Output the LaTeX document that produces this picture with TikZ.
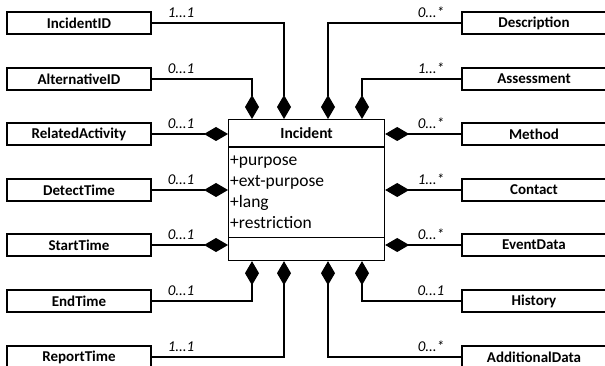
\documentclass[tikz,border=0pt]{standalone}
\usepackage{fontspec}
\setmainfont{Carlito}
\usetikzlibrary{arrows.meta}
\begin{document}
\begin{tikzpicture}[x=1pt,y=-1pt,
  cls/.style={draw, line width=1.2pt, minimum width=144pt, minimum height=22pt,
    inner sep=0pt, font=\fontsize{15}{17}\selectfont\bfseries},
  comp/.style={line width=1.1pt, {Diamond[length=24pt,width=14pt]}-},
  mult/.style={font=\fontsize{15}{17}\selectfont\itshape, inner sep=0pt},
  attr/.style={font=\fontsize{17.5}{21}\selectfont, inner sep=0pt, anchor=base west},
]
\useasboundingbox (0,0) rectangle (605,366);
\clip (0,0) rectangle (605,366);

% central class
\node[draw, line width=1.2pt, minimum width=156pt, minimum height=141pt,
  inner sep=0pt, anchor=north west] (incident) at (228,119) {};
\draw[line width=1.2pt] ([yshift=-28pt]incident.north west) -- ([yshift=-28pt]incident.north east);
\draw[line width=1.2pt] ([yshift=24pt]incident.south west) -- ([yshift=24pt]incident.south east);
\node[font=\fontsize{15.5}{17}\selectfont\bfseries, inner sep=0pt] (title)
  at ([yshift=-14pt]incident.north) {Incident};
\node[attr] (a1) at (230,166) {+purpose};
\node[attr] (a2) at (230,187) {+ext-purpose};
\node[attr] (a3) at (230,208) {+lang};
\node[attr] (a4) at (230,229) {+restriction};

% left column
\node[cls] (incidentid) at (79,23)  {IncidentID};
\node[cls] (altid)      at (79,79)  {AlternativeID};
\node[cls] (relact)     at (79,134) {RelatedActivity};
\node[cls] (detect)     at (79,190) {DetectTime};
\node[cls] (start)      at (79,245) {StartTime};
\node[cls] (endtime)    at (79,301) {EndTime};
\node[cls] (report)     at (79,357) {ReportTime};

% right column
\node[cls] (description) at (534,23)  {Description};
\node[cls] (assessment)  at (534,79)  {Assessment};
\node[cls] (method)      at (534,134) {Method};
\node[cls] (contact)     at (534,190) {Contact};
\node[cls] (eventdata)   at (534,245) {EventData};
\node[cls] (history)     at (534,301) {History};
\node[cls] (additional)  at (534,357) {AdditionalData};

% compositions, top
\draw[comp] ([xshift=56pt]incident.north west)  |- (incidentid.east);
\draw[comp] ([xshift=24pt]incident.north west)  |- (altid.east);
\draw[comp] ([xshift=100pt]incident.north west) |- (description.west);
\draw[comp] ([xshift=134pt]incident.north west) |- (assessment.west);
% left and right sides
\draw[comp] ([yshift=-15pt]incident.north west)  -- (relact.east);
\draw[comp] ([yshift=-71pt]incident.north west)  -- (detect.east);
\draw[comp] ([yshift=-126pt]incident.north west) -- (start.east);
\draw[comp] ([yshift=-15pt]incident.north east)  -- (method.west);
\draw[comp] ([yshift=-71pt]incident.north east)  -- (contact.west);
\draw[comp] ([yshift=-126pt]incident.north east) -- (eventdata.west);
% bottom
\draw[comp] ([xshift=24pt]incident.south west)  |- (endtime.east);
\draw[comp] ([xshift=56pt]incident.south west)  |- (report.east);
\draw[comp] ([xshift=100pt]incident.south west) |- (additional.west);
\draw[comp] ([xshift=134pt]incident.south west) |- (history.west);

% multiplicities
\node[mult, anchor=base west] (m1) at ([shift={(16pt,5.5pt)}]incidentid.east) {1...1};
\node[mult, anchor=base west] (m2) at ([shift={(16pt,5.5pt)}]altid.east) {0...1};
\node[mult, anchor=base west] (m3) at ([shift={(16pt,5.5pt)}]relact.east) {0...1};
\node[mult, anchor=base west] (m4) at ([shift={(16pt,5.5pt)}]detect.east) {0...1};
\node[mult, anchor=base west] (m5) at ([shift={(16pt,5.5pt)}]start.east) {0...1};
\node[mult, anchor=base west] (m6) at ([shift={(16pt,5.5pt)}]endtime.east) {0...1};
\node[mult, anchor=base west] (m7) at ([shift={(16pt,5.5pt)}]report.east) {1...1};
\node[mult, anchor=base east] (n1) at ([shift={(-17pt,5.5pt)}]description.west) {0...*};
\node[mult, anchor=base east] (n2) at ([shift={(-17pt,5.5pt)}]assessment.west) {1...*};
\node[mult, anchor=base east] (n3) at ([shift={(-17pt,5.5pt)}]method.west) {0...*};
\node[mult, anchor=base east] (n4) at ([shift={(-17pt,5.5pt)}]contact.west) {1...*};
\node[mult, anchor=base east] (n5) at ([shift={(-17pt,5.5pt)}]eventdata.west) {0...*};
\node[mult, anchor=base east] (n6) at ([shift={(-17pt,5.5pt)}]history.west) {0...1};
\node[mult, anchor=base east] (n7) at ([shift={(-17pt,5.5pt)}]additional.west) {0...*};
\end{tikzpicture}
\end{document}
